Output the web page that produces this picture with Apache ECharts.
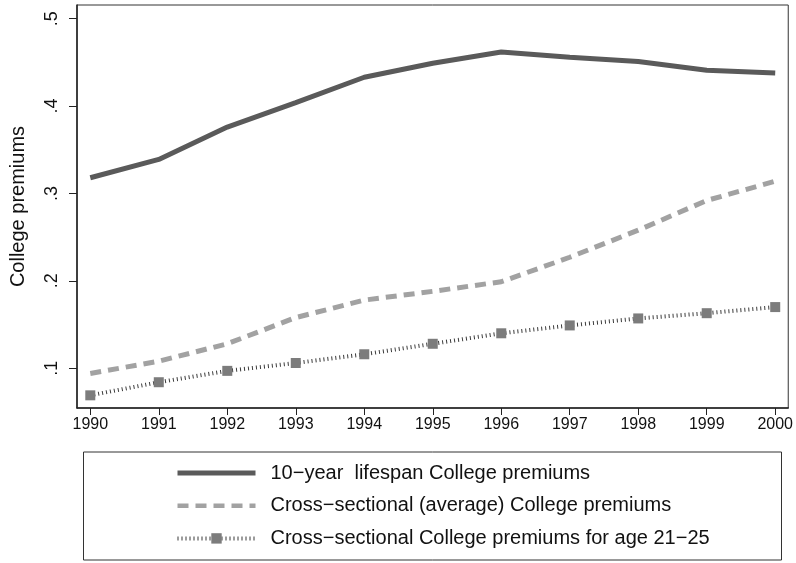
<!DOCTYPE html>
<html>
<head>
<meta charset="utf-8">
<script src="https://cdn.jsdelivr.net/npm/echarts@6/dist/echarts.min.js"></script>
<style>
html,body{margin:0;padding:0;background:#fff;}
#chart{width:796px;height:563px;}
</style>
</head>
<body>
<div id="chart"></div>
<script>
const years = [1990,1991,1992,1993,1994,1995,1996,1997,1998,1999,2000];
const lifespan = [0.318,0.339,0.376,0.404,0.433,0.449,0.462,0.456,0.451,0.441,0.438];
const crossAvg = [0.094,0.108,0.128,0.158,0.178,0.188,0.199,0.227,0.258,0.292,0.314];
const age2125 = [0.069,0.084,0.097,0.106,0.116,0.128,0.140,0.149,0.157,0.163,0.170];
const yTicks = [0.1,0.2,0.3,0.4,0.5];
const yTickLabels = ['.1','.2','.3','.4','.5'];
const seriesNames = [
  '10\u2212year  lifespan College premiums',
  'Cross\u2212sectional (average) College premiums',
  'Cross\u2212sectional College premiums for age 21\u221225'
];

const pair = arr => years.map((y,i)=>[y,arr[i]]);
const font = 'Liberation Sans, Arial, sans-serif';
const cSolid = '#5a5a5a', cDash = '#a2a2a2', cDot = '#3a3a3a', cMark = '#7c7c7c';

const chart = echarts.init(document.getElementById('chart'));
chart.setOption({
  animation:false,
  backgroundColor:'#fff',
  grid:{left:76,right:7,top:5,bottom:155,show:true,borderColor:'#333',borderWidth:1,backgroundColor:'#fff'},
  xAxis:{
    type:'value',min:1989.806,max:2000.19,
    axisLine:{onZero:false,lineStyle:{color:'#222',width:1.5}},
    axisTick:{customValues:years,length:7,lineStyle:{color:'#222',width:1}},
    axisLabel:{customValues:years,color:'#111',fontSize:16,fontFamily:font,margin:9,formatter:v=>String(Math.round(v))},
    splitLine:{show:false}
  },
  yAxis:{
    type:'value',min:0.0545,max:0.5157,
    name:'College premiums',nameLocation:'middle',nameGap:49,
    nameTextStyle:{color:'#111',fontSize:20,fontFamily:font},
    axisLine:{onZero:false,lineStyle:{color:'#222',width:1.5}},
    axisTick:{customValues:yTicks,length:8,lineStyle:{color:'#222',width:1}},
    axisLabel:{customValues:yTicks,rotate:90,color:'#111',fontSize:18,fontFamily:font,margin:16,
      formatter:v=>{const i=yTicks.findIndex(t=>Math.abs(t-v)<1e-6);return i>=0?yTickLabels[i]:'';}},
    splitLine:{show:false}
  },
  legend:{
    orient:'vertical',left:170,top:458,itemWidth:78,itemHeight:13,itemGap:12.7,
    textStyle:{color:'#111',fontSize:20,fontFamily:font,lineHeight:20,padding:[0,0,0,10]},
    data:[
      {name:seriesNames[0],itemStyle:{opacity:0},lineStyle:{width:5}},
      {name:seriesNames[1],itemStyle:{opacity:0},lineStyle:{width:4.5}},
      {name:seriesNames[2],lineStyle:{width:4}}
    ]
  },
  graphic:[{type:'rect',shape:{x:83.5,y:452,width:698,height:108},style:{fill:'none',stroke:'#333',lineWidth:1},silent:true}],
  series:[
    {name:seriesNames[0],type:'line',data:pair(lifespan),showSymbol:false,symbol:'none',
     lineStyle:{color:cSolid,width:5},itemStyle:{color:cSolid}},
    {name:seriesNames[1],type:'line',data:pair(crossAvg),showSymbol:false,symbol:'none',
     lineStyle:{color:cDash,width:5,type:[11,7]},itemStyle:{color:cDash}},
    {name:seriesNames[2],type:'line',data:pair(age2125),symbol:'rect',symbolSize:10,
     lineStyle:{color:cDot,width:4,type:[1,3]},itemStyle:{color:cMark}}
  ]
});
</script>
</body>
</html>
